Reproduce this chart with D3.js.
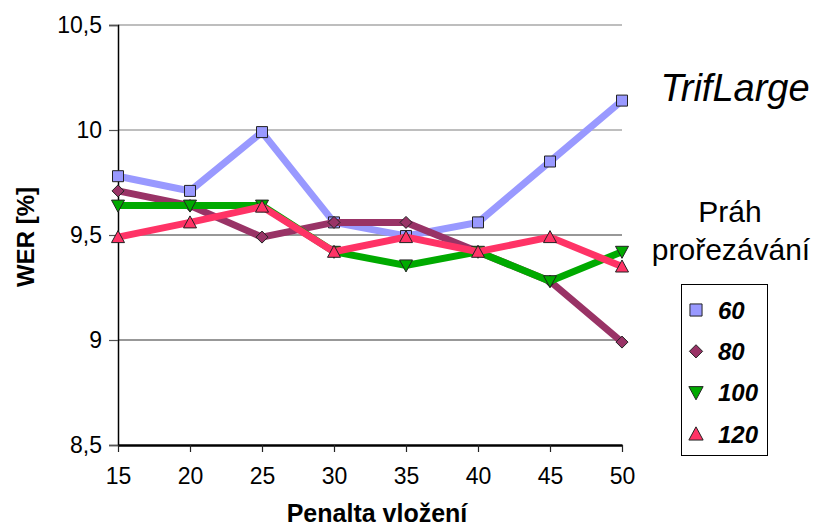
<!DOCTYPE html>
<html>
<head>
<meta charset="utf-8">
<script src="https://cdn.jsdelivr.net/npm/d3@7"></script>
<style>
  html, body { margin: 0; padding: 0; background: #fff; }
  svg { display: block; font-family: Arial, "Liberation Sans", sans-serif; }
</style>
</head>
<body>
<svg id="chart" width="817" height="527"></svg>
<script>
// Penalty values on the x axis
const penalties = [15, 20, 25, 30, 35, 40, 45, 50];
// Y axis ticks and their labels (Czech decimal comma)
const yTicks = [8.5, 9, 9.5, 10, 10.5];
const yTickLabels = ["8,5", "9", "9,5", "10", "10,5"];

// WER [%] for each pruning threshold
const wer60  = [9.78, 9.71, 9.99, 9.56, 9.495, 9.56, 9.85, 10.14];
const wer80  = [9.71, 9.64, 9.49, 9.56, 9.56, 9.42, 9.28, 8.99];
const wer100 = [9.64, 9.64, 9.64, 9.42, 9.355, 9.42, 9.28, 9.42];
const wer120 = [9.49, 9.56, 9.635, 9.42, 9.49, 9.42, 9.49, 9.35];

const seriesNames = ["60", "80", "100", "120"];

const series = [
  { name: seriesNames[0], values: wer60,  color: "#9999FF", symbol: "square" },
  { name: seriesNames[1], values: wer80,  color: "#993366", symbol: "diamond" },
  { name: seriesNames[2], values: wer100, color: "#00AA00", symbol: "down" },
  { name: seriesNames[3], values: wer120, color: "#FF3366", symbol: "up" }
];

const FONT = "Arial, 'Liberation Sans', sans-serif";
const svg = d3.select("#chart");
const margin = { left: 118, right: 195, top: 25, bottom: 82 };
const W = 817, H = 527;

const x = d3.scalePoint().domain(penalties).range([margin.left, W - margin.right]);
const y = d3.scaleLinear().domain([8.5, 10.5]).range([H - margin.bottom, margin.top]);

// horizontal gridlines
svg.append("g")
  .selectAll("line")
  .data(yTicks.filter(d => d > 8.5))
  .join("line")
  .attr("x1", margin.left).attr("x2", W - margin.right)
  .attr("y1", d => y(d)).attr("y2", d => y(d))
  .attr("stroke", d => d >= 10 ? "#7f7f7f" : "#333")
  .attr("stroke-width", 1.2);

// y axis
const yAxis = d3.axisLeft(y)
  .tickValues(yTicks)
  .tickFormat((d, i) => yTickLabels[i])
  .tickSize(9)
  .tickPadding(7);
const gy = svg.append("g").attr("transform", `translate(${margin.left},0)`).call(yAxis);
gy.select(".domain").attr("stroke", "#000").attr("stroke-width", 1.5);
gy.selectAll(".tick line").attr("stroke", "#555").attr("stroke-width", 1.2);
gy.selectAll(".tick text").attr("font-size", 23).attr("fill", "#000")
  .attr("font-family", FONT);

// x axis
const xAxis = d3.axisBottom(x).tickSize(7).tickPadding(16).tickSizeOuter(0);
const gx = svg.append("g").attr("transform", `translate(0,${y(8.5)})`).call(xAxis);
gx.select(".domain").attr("stroke", "#000").attr("stroke-width", 2.5);
gx.selectAll(".tick line").attr("stroke", "#222").attr("stroke-width", 1.2);
gx.selectAll(".tick text").attr("font-size", 23).attr("fill", "#000")
  .attr("font-family", FONT);

// marker path generator (centered at 0,0)
function markerPath(sym) {
  switch (sym) {
    case "square": return "M-5.5,-5.5H5.5V5.5H-5.5Z";
    case "diamond": return "M0,-6L6,0L0,6L-6,0Z";
    case "down": return "M-6.5,-5.5L6.5,-5.5L0,6.5Z";
    case "up": return "M0,-6.5L6.5,5.5L-6.5,5.5Z";
  }
}

const line = d3.line().x((d, i) => x(penalties[i])).y(d => y(d));

series.forEach(s => {
  const g = svg.append("g");
  g.append("path")
    .attr("d", line(s.values))
    .attr("fill", "none")
    .attr("stroke", s.color)
    .attr("stroke-width", 7)
    .attr("stroke-linejoin", "miter");
  g.selectAll("path.m")
    .data(s.values)
    .join("path")
    .attr("class", "m")
    .attr("transform", (d, i) => `translate(${x(penalties[i])},${y(d)})`)
    .attr("d", markerPath(s.symbol))
    .attr("fill", s.color)
    .attr("stroke", "#222")
    .attr("stroke-width", 1);
});

// axis titles
svg.append("text")
  .attr("x", 377)
  .attr("y", 522)
  .attr("text-anchor", "middle")
  .attr("font-size", 25).attr("font-weight", "bold")
  .text("Penalta vložení");

svg.append("text")
  .attr("transform", "translate(34,237) rotate(-90)")
  .attr("text-anchor", "middle")
  .attr("font-size", 24).attr("font-weight", "bold")
  .text("WER [%]");

// chart caption
svg.append("text")
  .attr("x", 735).attr("y", 101)
  .attr("text-anchor", "middle")
  .attr("font-size", 38).attr("font-style", "italic")
  .text("TrifLarge");

// legend title
svg.append("text")
  .attr("x", 730).attr("y", 222)
  .attr("text-anchor", "middle")
  .attr("font-size", 30)
  .text("Práh");
svg.append("text")
  .attr("x", 731).attr("y", 260)
  .attr("text-anchor", "middle")
  .attr("font-size", 30)
  .text("prořezávání");

// legend box
svg.append("rect")
  .attr("x", 681.5).attr("y", 284.5)
  .attr("width", 86).attr("height", 171)
  .attr("fill", "#fff").attr("stroke", "#000").attr("stroke-width", 1);

const legendY = d3.scalePoint().domain(seriesNames).range([310, 434]);
const lg = svg.append("g").selectAll("g").data(series).join("g")
  .attr("transform", d => `translate(696,${legendY(d.name)})`);
lg.append("path")
  .attr("d", d => markerPath(d.symbol))
  .attr("transform", "scale(1.1)")
  .attr("fill", d => d.color)
  .attr("stroke", "#222").attr("stroke-width", 0.9);
lg.append("text")
  .attr("x", 22).attr("y", 8.5)
  .attr("font-size", 24).attr("font-weight", "bold").attr("font-style", "italic")
  .text(d => d.name);
</script>
</body>
</html>
